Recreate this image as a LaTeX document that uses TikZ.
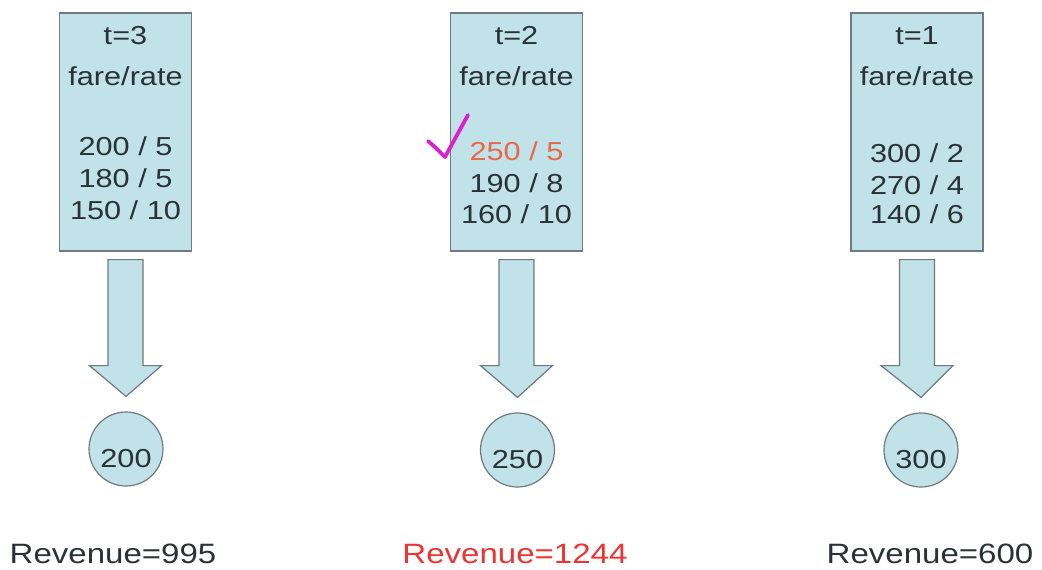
\documentclass[tikz,border=0pt]{standalone}
\usepackage{fontspec}
\setmainfont{Liberation Sans}[FakeStretch=1.18]
\usetikzlibrary{calc}
\definecolor{boxfill}{RGB}{192,226,232}
\definecolor{boxline}{RGB}{112,122,126}
\definecolor{ink}{RGB}{42,50,54}
\definecolor{pick}{RGB}{232,104,72}
\definecolor{best}{RGB}{236,52,52}
\definecolor{tick}{RGB}{222,32,204}
\tikzset{
  stage/.style={draw=boxline, line width=1.2pt, fill=boxfill, minimum width=132pt, minimum height=238pt, inner sep=0pt},
  line/.style={text=ink, font=\fontsize{26}{30}\selectfont, anchor=base, inner sep=0pt},
  outcome/.style={draw=boxline, line width=1.2pt, fill=boxfill, roundish, inner sep=0pt},
  roundish/.style={circle, minimum size=72pt},
  blockarrow/.style={draw=boxline, line width=1.2pt, fill=boxfill, line join=miter},
  revenue/.style={font=\fontsize{28}{32}\selectfont, anchor=base, inner sep=0pt},
}
% block arrow from the bottom of one node to the top of another
\newcommand{\flowarrow}[2]{%
  \draw[blockarrow]
    ($(#1.south)+(-17.5,8)$) -- ($(#1.south)+(17.5,8)$) --
    ($(#1.south)+(17.5,114)$) -- ($(#1.south)+(36,114)$) --
    ($(#2.north)+(0,-15)$) --
    ($(#1.south)+(-36,114)$) -- ($(#1.south)+(-17.5,114)$) -- cycle;}
\begin{document}
\begin{tikzpicture}[x=1pt,y=-1pt]
\useasboundingbox (0,0) rectangle (1042,570);

% stage boxes
\node[stage] (b3) at (125.5,132) {};
\node[stage] (b2) at (516.5,132) {};
\node[stage] (b1) at (917,132) {};

% stage t=3
\node[line] (b3t) at (125.5,45) {t=3};
\node[line] (b3h) at (125.5,85) {fare/rate};
\node[line] (b3a) at (125.5,155) {200 / 5};
\node[line] (b3b) at (125.5,187) {180 / 5};
\node[line] (b3c) at (125.5,219) {150 / 10};

% stage t=2
\node[line] (b2t) at (516.5,45) {t=2};
\node[line] (b2h) at (516.5,85) {fare/rate};
\node[line, text=pick] (b2a) at (516.5,160) {250 / 5};
\node[line] (b2b) at (516.5,192) {190 / 8};
\node[line] (b2c) at (516.5,223) {160 / 10};

% stage t=1
\node[line] (b1t) at (917,45) {t=1};
\node[line] (b1h) at (917,85) {fare/rate};
\node[line] (b1a) at (917,162) {300 / 2};
\node[line] (b1b) at (917,194) {270 / 4};
\node[line] (b1c) at (917,223) {140 / 6};

% chosen fares
\node[outcome, minimum width=72pt, minimum height=74pt] (c3) at (126,449) {};
\node[outcome, minimum width=72pt, minimum height=74pt] (c2) at (517.5,450) {};
\node[outcome, minimum width=72pt, minimum height=74pt] (c1) at (921,450) {};
\node[line] (c3l) at (126,467) {200};
\node[line] (c2l) at (517.5,468) {250};
\node[line] (c1l) at (921,468) {300};

% flow from each stage to its choice
\flowarrow{b3}{c3}
\flowarrow{b2}{c2}
\flowarrow{b1}{c1}

% tick beside the selected fare
\draw[tick, line width=3.8pt, line cap=round, line join=round]
  (428,141) .. controls (436,148) .. (445,157) .. controls (456,136) .. (468,115);

% totals
\node[revenue, text=ink] (r3) at (113,563) {Revenue=995};
\node[revenue, text=best] (r2) at (515,563) {Revenue=1244};
\node[revenue, text=ink] (r1) at (930,563) {Revenue=600};
\end{tikzpicture}
\end{document}
